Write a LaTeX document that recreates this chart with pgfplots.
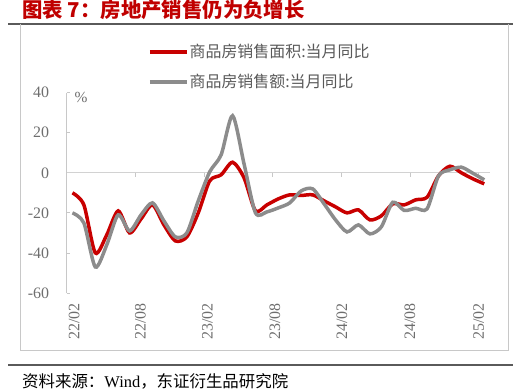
\documentclass[border=0pt]{standalone}
\usepackage{pgfplots}
\pgfplotsset{compat=1.18}
\usepackage{pgfplotstable}
\usepackage{fontspec}
\setmainfont{Liberation Serif}
\newfontfamily\cjk{Noto Sans CJK SC}
\definecolor{linered}{RGB}{200,0,0}
\definecolor{titlered}{RGB}{192,0,0}
\definecolor{linegray}{RGB}{140,140,140}
\definecolor{textgray}{RGB}{89,89,89}
\definecolor{ticktext}{RGB}{110,110,110}
\definecolor{axisgray}{RGB}{200,200,200}
\definecolor{zerogray}{RGB}{210,210,210}
\definecolor{framegray}{RGB}{200,200,200}
\definecolor{rulegray}{RGB}{90,90,90}

\pgfplotstableread{
i red gray
0 -10 -20
1 -16 -25
2 -40 -47
3 -31 -36
4 -19 -21
5 -30 -29
6 -23 -21
7 -16 -15
8 -26 -24
9 -34 -32
10 -32 -30
11 -20 -14
12 -4 0.5
13 -1 9
14 5.3 28.5
15 -2.5 4.5
16 -19 -20
17 -16 -19.5
18 -13 -17.5
19 -11 -15
20 -11.3 -9
21 -11 -8
22 -14 -15.5
23 -17 -23.5
24 -20 -29.5
25 -18.5 -26
26 -23.5 -30.5
27 -21.5 -27
28 -15.5 -14.7
29 -16 -18.8
30 -13.5 -17.7
31 -12.2 -18
32 -1.5 -1.5
33 3.3 1.5
34 0 2.8
35 -3 -0.2
36 -5.5 -3.5
}\data

\begin{document}
\begin{tikzpicture}
\useasboundingbox (0,0) rectangle (529bp,390bp);
% title and frame
\node[anchor=west, inner sep=0pt, text=titlered] at (22bp,380bp)
  {\cjk\bfseries\fontsize{20.5}{22}\selectfont 图表 7：房地产销售仍为负增长};
\draw[rulegray, line width=1.5bp] (8bp,366bp) -- (513bp,366bp);
\draw[framegray, line width=0.6bp] (20bp,366bp) -- (20bp,40bp) -- (508bp,40bp) -- (508bp,366bp);
\draw[rulegray, line width=1.5bp] (8bp,25bp) -- (513bp,25bp);
\node[anchor=west, inner sep=0pt] at (22bp,9bp)
  {\cjk\fontsize{16.5}{18}\selectfont 资料来源：{\rmfamily Wind}，东证衍生品研究院};

\begin{axis}[
  at={(66.7bp,97bp)}, anchor=south west,
  scale only axis, width=423.3bp, height=200.3bp,
  xmin=-0.5, xmax=36.5, ymin=-60, ymax=40,
  separate axis lines,
  axis y line*=left, axis x line*=bottom,
  x axis line style={draw=none},
  y axis line style={draw=axisgray, line width=0.8bp},
  xtick={0.15,5.95,11.8,17.7,23.55,29.5,35.5},
  xticklabels={22/02,22/08,23/02,23/08,24/02,24/08,25/02},
  xtick style={draw=none},
  ytick={-60,-40,-20,0,20,40},
  yticklabels={-60,-40,-20,0,20,40},
  ytick style={draw=axisgray, line width=0.8bp},
  tick align=inside, major tick length=3bp,
  ticklabel style={font=\fontsize{16}{16}\selectfont, text=ticktext},
  yticklabel style={anchor=east, inner sep=0pt, xshift=-17.5bp},
  xticklabel style={yshift=-10bp, rotate=90, anchor=east, inner sep=0pt},
  clip=false,
  legend style={at={(0.192,1.248)}, anchor=north west, draw=none, fill=none,
    font=\cjk\fontsize{16}{16}\selectfont, text=textgray,
    nodes={inner sep=1bp, text height=13bp, text depth=3bp},
    row sep=12bp, inner sep=0pt},
  legend cell align=left,
  legend image code/.code={\draw[#1] (0bp,0bp) -- (37bp,0bp);},
]
\draw[zerogray, line width=0.8bp] (axis cs:-0.5,0) -- (axis cs:36.5,0);
\pgfplotsinvokeforeach{5.5,11.5,17.5,23.5,29.5,35.5}{
  \draw[axisgray, line width=0.8bp] (axis cs:#1,0) -- ([yshift=-4bp]axis cs:#1,0);
}
\node[text=ticktext, font=\fontsize{15.5}{16}\selectfont] at (rel axis cs:0.034,0.975) {\%};
\addplot[linered, line width=3.5bp, smooth, tension=0.45] table[x=i, y=red] {\data};
\addlegendentry{商品房销售面积:当月同比}
\addplot[linegray, line width=3.5bp, smooth, tension=0.45] table[x=i, y=gray] {\data};
\addlegendentry{商品房销售额:当月同比}
\end{axis}
\end{tikzpicture}
\end{document}
